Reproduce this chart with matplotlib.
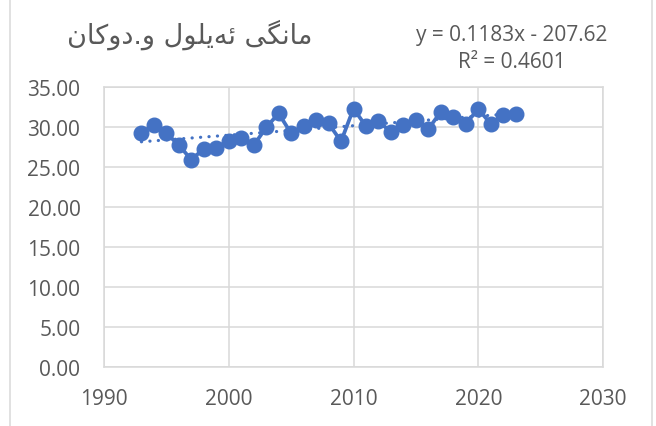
import matplotlib
matplotlib.use("Agg")
import matplotlib.pyplot as plt
from matplotlib.lines import Line2D
import numpy as np

# data (September, Dukan station)
years = [1993, 1994, 1995, 1996, 1997, 1998, 1999, 2000, 2001, 2002,
         2003, 2004, 2005, 2006, 2007, 2008, 2009, 2010, 2011, 2012,
         2013, 2014, 2015, 2016, 2017, 2018, 2019, 2020, 2021, 2022, 2023]
temps = [29.25, 30.3, 29.2, 27.75, 25.9, 27.3, 27.4, 28.3, 28.6, 27.7,
         29.95, 31.7, 29.2, 30.1, 30.9, 30.45, 28.2, 32.3, 30.1, 30.7,
         29.4, 30.3, 30.9, 29.75, 31.9, 31.3, 30.4, 32.25, 30.4, 31.5, 31.6]
trend_slope = 0.1183
trend_intercept = -207.62
r_squared = 0.4601
title = "مانگی ئەیلول و.دوکان"

BLUE = "#4472C4"
GRAY_TXT = "#595959"
GRID = "#D9D9D9"

# matplotlib does no arabic shaping, so pick presentation forms by hand
# (isolated, final, initial, medial)
FORMS = {
    "ا": ("\uFE8D", "\uFE8E", None, None),
    "م": ("\uFEE1", "\uFEE2", "\uFEE3", "\uFEE4"),
    "ن": ("\uFEE5", "\uFEE6", "\uFEE7", "\uFEE8"),
    "گ": ("\uFB92", "\uFB93", "\uFB94", "\uFB95"),
    "ی": ("\uFBFC", "\uFBFD", "\uFBFE", "\uFBFF"),
    "ئ": ("\uFE89", "\uFE8A", "\uFE8B", "\uFE8C"),
    "ە": ("\u06D5", "\uFEEA", None, None),
    "ل": ("\uFEDD", "\uFEDE", "\uFEDF", "\uFEE0"),
    "و": ("\uFEED", "\uFEEE", None, None),
    "د": ("\uFEA9", "\uFEAA", None, None),
    "ک": ("\uFB8E", "\uFB8F", "\uFB90", "\uFB91"),
}


def shape_rtl(s):
    out = []
    for i, ch in enumerate(s):
        if ch not in FORMS:
            out.append(ch)
            continue
        prev = s[i - 1] if i > 0 else None
        nxt = s[i + 1] if i + 1 < len(s) else None
        join_prev = prev in FORMS and FORMS[prev][2] is not None
        join_next = FORMS[ch][2] is not None and nxt in FORMS
        if join_prev and join_next:
            out.append(FORMS[ch][3])
        elif join_prev:
            out.append(FORMS[ch][1])
        elif join_next:
            out.append(FORMS[ch][2])
        else:
            out.append(FORMS[ch][0])
    return "".join(out)[::-1]


plt.rcParams["font.family"] = ["Open Sans", "DejaVu Sans"]

fig = plt.figure(figsize=(6.56, 4.27), dpi=100)
ax = fig.add_axes([104 / 656, 59 / 427, 499 / 656, 280 / 427])

x_tr = np.array([years[0], years[-1]])
ax.plot(x_tr, trend_slope * x_tr + trend_intercept, color=BLUE, lw=2.3,
        linestyle=(0, (0.05, 2.6)), dash_capstyle="round", zorder=3)
ax.plot(years, temps, color=BLUE, lw=2.7, marker="o", markersize=10.5,
        markerfacecolor=BLUE, markeredgecolor=BLUE, zorder=4)

ax.set_xlim(1990, 2030)
ax.set_ylim(0, 35)
ax.set_xticks(range(1990, 2031, 10))
ax.set_yticks(np.arange(0, 35.1, 5))
ax.set_yticklabels([f"{v:.2f}" for v in np.arange(0, 35.1, 5)])
ax.grid(True, color=GRID, lw=1.1)
ax.set_axisbelow(True)
for sp in ax.spines.values():
    sp.set_color(GRID)
    sp.set_linewidth(1.1)
ax.tick_params(length=0, labelsize=15, labelcolor=GRAY_TXT)
ax.tick_params(axis="y", pad=17)
ax.tick_params(axis="x", pad=15)

fig.text(190 / 656, 1 - 35 / 427, shape_rtl(title), ha="center", va="center",
         fontsize=19.5, color=GRAY_TXT, family=["DejaVu Sans"])
fig.text(512 / 656, 1 - 36 / 427, f"y = {trend_slope}x - {abs(trend_intercept)}",
         ha="center", va="center", fontsize=15, color=GRAY_TXT)
fig.text(512 / 656, 1 - 63 / 427, f"R² = {r_squared}",
         ha="center", va="center", fontsize=15, color=GRAY_TXT)

for xf in (10 / 656, 652 / 656):
    fig.add_artist(Line2D([xf, xf], [0, 1], transform=fig.transFigure,
                          color=GRID, lw=1.1))

fig.savefig("out.png", dpi=100)
